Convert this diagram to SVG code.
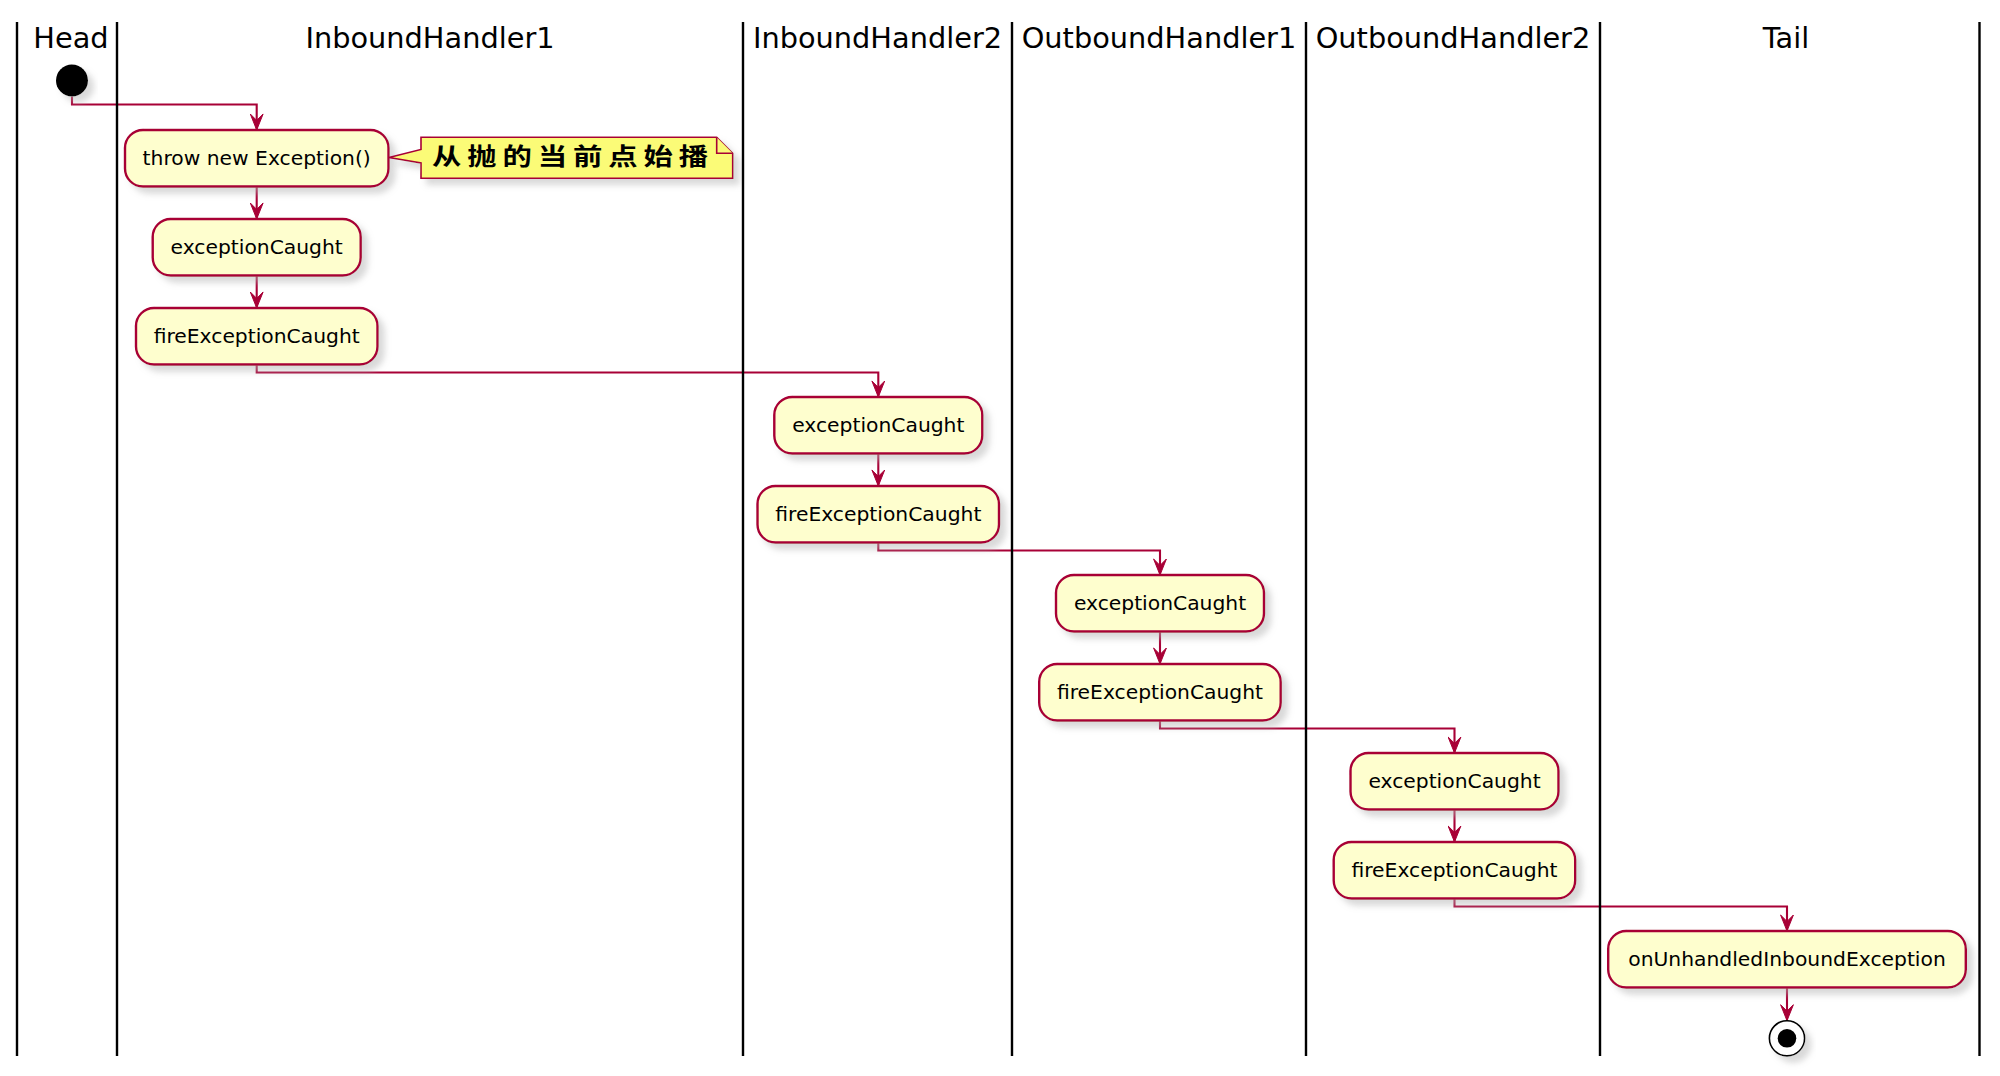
<svg xmlns="http://www.w3.org/2000/svg" width="2000" height="1076" viewBox="0 0 2000 1076">
<defs>
<filter id="sh" x="-20%" y="-40%" width="150%" height="200%">
<feGaussianBlur in="SourceAlpha" stdDeviation="3.2" result="b"/>
<feColorMatrix in="b" type="matrix" values="0 0 0 0 0.45  0 0 0 0 0.45  0 0 0 0 0.45  0 0 0 0.5 0" result="c"/>
<feOffset in="c" dx="6.4" dy="6.4" result="o"/>
<feMerge><feMergeNode in="o"/><feMergeNode in="SourceGraphic"/></feMerge>
</filter>
<marker id="ah" viewBox="-17 -7 18 14" markerWidth="18" markerHeight="14" refX="0" refY="0" orient="auto" markerUnits="userSpaceOnUse">
<path d="M0,0 L-16,-6.4 L-9.6,0 L-16,6.4 Z" fill="#A80036" stroke="#A80036" stroke-width="1"/>
</marker>
</defs>
<style>
.lane{stroke:#000;stroke-width:2.4}
.hdr{font-family:"DejaVu Sans",sans-serif;font-size:28.8px;fill:#000;text-anchor:middle}
.act rect{fill:#FEFECE;stroke:#A80036;stroke-width:2.4}
.act text{font-family:"DejaVu Sans",sans-serif;font-size:20.3px;fill:#000;text-anchor:middle}
.con{fill:none;stroke:#A80036;stroke-width:2.1;marker-end:url(#ah)}
.note path{fill:#FBFB77;stroke:#A80036;stroke-width:1.6}
.note text{font-family:"Noto Sans CJK SC",sans-serif;font-weight:700;font-size:23.5px;fill:#000}
</style>
<rect x="0" y="0" width="2000" height="1076" fill="#fff"/>

<g id="headers">
<text class="hdr" x="71" y="48">Head</text>
<text class="hdr" x="430" y="48">InboundHandler1</text>
<text class="hdr" x="877.5" y="48">InboundHandler2</text>
<text class="hdr" x="1159" y="48">OutboundHandler1</text>
<text class="hdr" x="1453" y="48">OutboundHandler2</text>
<text class="hdr" x="1786" y="48">Tail</text>
</g>

<g id="connectors">
<path class="con" d="M72,96.5 V104.5 H256.7 V130"/>
<path class="con" d="M256.7,186.5 V219"/>
<path class="con" d="M256.7,275.5 V308"/>
<path class="con" d="M256.7,364.5 V372.5 H878.3 V397"/>
<path class="con" d="M878.3,453.5 V486"/>
<path class="con" d="M878.3,542.5 V550.5 H1160 V575"/>
<path class="con" d="M1160,631.5 V664"/>
<path class="con" d="M1160,720.5 V728.5 H1454.5 V753"/>
<path class="con" d="M1454.5,809.5 V842"/>
<path class="con" d="M1454.5,898.5 V906.5 H1787 V931"/>
<path class="con" d="M1787,987.5 V1020.7"/>
</g>

<g id="start"><circle cx="72" cy="80.5" r="16" fill="#000" filter="url(#sh)"/></g>

<g id="throw" class="act"><rect x="125" y="130" width="263.5" height="56.5" rx="18" filter="url(#sh)"/><text x="256.7" y="165">throw new Exception()</text></g>
<g id="note" class="note">
<path d="M421,137.3 L421,149.5 L389,157.5 L421,163 L421,178.3 L732.7,178.3 L732.7,153.3 L716.7,137.3 Z" filter="url(#sh)"/>
<path d="M716.7,137.3 L716.7,153.3 L732.7,153.3" fill="none"/>
<text transform="translate(432,165) scale(1.25,1)" x="0" y="0" textLength="221" lengthAdjust="spacing">从抛的当前点始播</text>
</g>
<g id="ih1-caught" class="act"><rect x="152.7" y="219" width="208" height="56.5" rx="18" filter="url(#sh)"/><text x="256.7" y="254">exceptionCaught</text></g>
<g id="ih1-fire" class="act"><rect x="136" y="308" width="241.5" height="56.5" rx="18" filter="url(#sh)"/><text x="256.7" y="343">fireExceptionCaught</text></g>
<g id="ih2-caught" class="act"><rect x="774.3" y="397" width="208" height="56.5" rx="18" filter="url(#sh)"/><text x="878.3" y="432">exceptionCaught</text></g>
<g id="ih2-fire" class="act"><rect x="757.5" y="486" width="241.5" height="56.5" rx="18" filter="url(#sh)"/><text x="878.3" y="521">fireExceptionCaught</text></g>
<g id="oh1-caught" class="act"><rect x="1056" y="575" width="208" height="56.5" rx="18" filter="url(#sh)"/><text x="1160" y="610">exceptionCaught</text></g>
<g id="oh1-fire" class="act"><rect x="1039.2" y="664" width="241.5" height="56.5" rx="18" filter="url(#sh)"/><text x="1160" y="699">fireExceptionCaught</text></g>
<g id="oh2-caught" class="act"><rect x="1350.5" y="753" width="208" height="56.5" rx="18" filter="url(#sh)"/><text x="1454.5" y="788">exceptionCaught</text></g>
<g id="oh2-fire" class="act"><rect x="1333.7" y="842" width="241.5" height="56.5" rx="18" filter="url(#sh)"/><text x="1454.5" y="877">fireExceptionCaught</text></g>
<g id="tail-unhandled" class="act"><rect x="1608.2" y="931" width="357.6" height="56.5" rx="18" filter="url(#sh)"/><text x="1787" y="966">onUnhandledInboundException</text></g>
<g id="end"><circle cx="1787" cy="1038.3" r="17.6" fill="#fff" stroke="#000" stroke-width="1.6" filter="url(#sh)"/><circle cx="1787" cy="1038.3" r="9.3" fill="#000"/></g>

<g id="lanes">
<line class="lane" x1="17" y1="22" x2="17" y2="1056"/>
<line class="lane" x1="117" y1="22" x2="117" y2="1056"/>
<line class="lane" x1="743" y1="22" x2="743" y2="1056"/>
<line class="lane" x1="1012" y1="22" x2="1012" y2="1056"/>
<line class="lane" x1="1306" y1="22" x2="1306" y2="1056"/>
<line class="lane" x1="1600" y1="22" x2="1600" y2="1056"/>
<line class="lane" x1="1979.5" y1="22" x2="1979.5" y2="1056"/>
</g>
</svg>
